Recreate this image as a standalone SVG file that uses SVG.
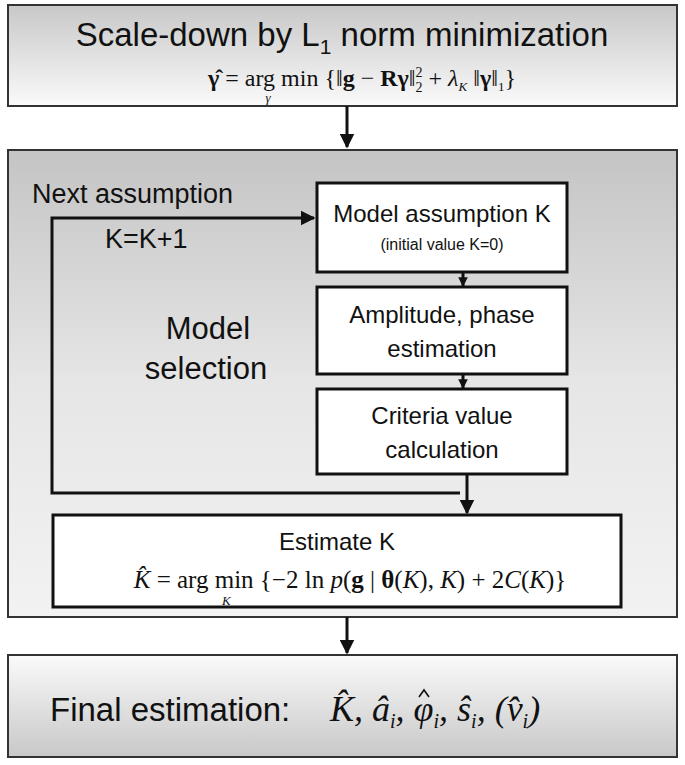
<svg xmlns="http://www.w3.org/2000/svg" width="685" height="765" viewBox="0 0 685 765">
<style>
.s{font-family:"Liberation Sans",Arial,sans-serif;fill:#111}
.m{font-family:"Liberation Serif","Times New Roman",serif;fill:#111}
.bx{fill:#fff;stroke:#111;stroke-width:3}
.ln{fill:none;stroke:#111;stroke-width:3}
</style>
<defs>
<linearGradient id="g1" x1="0" y1="0" x2="0" y2="1"><stop offset="0" stop-color="#c8c8c8"/><stop offset="1" stop-color="#fafafa"/></linearGradient>
<linearGradient id="g2" x1="0" y1="0" x2="0" y2="1"><stop offset="0" stop-color="#c4c4c4"/><stop offset="0.5" stop-color="#e6e6e6"/><stop offset="1" stop-color="#f2f2f2"/></linearGradient>
<marker id="a" viewBox="0 0 10 10" refX="9" refY="5" markerWidth="5" markerHeight="5" orient="auto" markerUnits="strokeWidth"><path d="M0,0L10,5L0,10z" fill="#111"/></marker>
<marker id="b" viewBox="0 0 10 10" refX="9" refY="5" markerWidth="3.2" markerHeight="3.2" orient="auto" markerUnits="strokeWidth"><path d="M0,0L10,5L0,10z" fill="#111"/></marker>
</defs>
<rect x="0" y="0" width="685" height="765" fill="#fff"/>
<g id="top">
<rect x="8" y="5" width="669" height="101" fill="url(#g1)" stroke="#333" stroke-width="2"/>
<text class="s" x="342" y="46" font-size="33" text-anchor="middle">Scale-down by L<tspan font-size="21" dy="8">1</tspan><tspan dy="-8"> norm minimization</tspan></text>
<text class="m" x="362" y="86" font-size="24" text-anchor="middle"><tspan font-weight="bold">γ̂</tspan> = arg min  {‖<tspan font-weight="bold">g</tspan> − <tspan font-weight="bold">Rγ</tspan>‖<tspan font-size="14" dy="6">2</tspan><tspan font-size="14" dx="-7" dy="-15">2</tspan><tspan dy="9"> + </tspan><tspan font-style="italic">λ</tspan><tspan font-size="13" font-style="italic" dy="5">K</tspan><tspan dy="-5"> ‖</tspan><tspan font-weight="bold">γ</tspan>‖<tspan font-size="13" dy="5">1</tspan><tspan dy="-5">}</tspan></text>
<text class="m" x="268" y="102" font-size="13" font-style="italic" text-anchor="middle">γ</text>
</g>
<g id="panel">
<rect x="8" y="150" width="669" height="467" fill="url(#g2)" stroke="#333" stroke-width="2"/>
<text class="s" x="32" y="203" font-size="27">Next assumption</text>
<text class="s" x="105" y="248" font-size="27">K=K+1</text>
<text class="s" x="208" y="339" font-size="31" text-anchor="middle">Model</text>
<text class="s" x="206" y="379" font-size="31" text-anchor="middle">selection</text>
</g>
<g id="n1"><rect class="bx" x="317" y="183" width="250" height="89"/>
<text class="s" x="442" y="222" font-size="24" text-anchor="middle">Model assumption K</text>
<text class="s" x="442" y="250" font-size="16" text-anchor="middle">(initial value K=0)</text></g>
<g id="n2"><rect class="bx" x="317" y="287" width="250" height="87"/>
<text class="s" x="442" y="323" font-size="24" text-anchor="middle">Amplitude, phase</text>
<text class="s" x="442" y="357" font-size="24" text-anchor="middle">estimation</text></g>
<g id="n3"><rect class="bx" x="317" y="389" width="250" height="85"/>
<text class="s" x="442" y="424" font-size="24" text-anchor="middle">Criteria value</text>
<text class="s" x="442" y="458" font-size="24" text-anchor="middle">calculation</text></g>
<g id="n4"><rect class="bx" x="53" y="515" width="568" height="92"/>
<text class="s" x="337" y="550" font-size="24" text-anchor="middle">Estimate K</text>
<text class="m" x="350" y="588" font-size="25" text-anchor="middle"><tspan font-style="italic">K̂</tspan> = arg min {−2 ln <tspan font-style="italic">p</tspan>(<tspan font-weight="bold">g</tspan> | <tspan font-weight="bold">θ</tspan>(<tspan font-style="italic">K</tspan>), <tspan font-style="italic">K</tspan>) + 2<tspan font-style="italic">C</tspan>(<tspan font-style="italic">K</tspan>)}</text>
<text class="m" x="222" y="605" font-size="13" font-style="italic">K</text></g>
<g id="final">
<rect x="8" y="655" width="669" height="102" fill="url(#g1)" transform="rotate(180 342.5 706)" stroke="#333" stroke-width="2"/>
<text class="s" x="50" y="721" font-size="33">Final estimation:</text>
<text class="m" x="330" y="721" font-size="36" font-style="italic">K̂, â<tspan font-size="20" dy="7">i</tspan><tspan dy="-7">, φ</tspan><tspan font-size="20" dy="7">i</tspan><tspan dy="-7">, ŝ</tspan><tspan font-size="20" dy="7">i</tspan><tspan dy="-7">, (v̂</tspan><tspan font-size="20" dy="7">i</tspan><tspan dy="-7">)</tspan></text>
<polyline points="419,697 424,690 429,697" fill="none" stroke="#111" stroke-width="1.6"/>
</g>
<g id="connectors">
<line class="ln" x1="347" y1="106" x2="347" y2="147" stroke-width="5" marker-end="url(#a)"/>
<line class="ln" x1="463" y1="272" x2="463" y2="286" stroke-width="5" marker-end="url(#b)"/>
<line class="ln" x1="463" y1="374" x2="463" y2="388" stroke-width="5" marker-end="url(#b)"/>
<line class="ln" x1="467" y1="474" x2="467" y2="513" stroke-width="5" marker-end="url(#a)"/>
<polyline class="ln" points="460,493 52,493 52,218 314,218" marker-end="url(#a)"/>
<line class="ln" x1="347" y1="617" x2="347" y2="653" stroke-width="5" marker-end="url(#a)"/>
</g>
</svg>
